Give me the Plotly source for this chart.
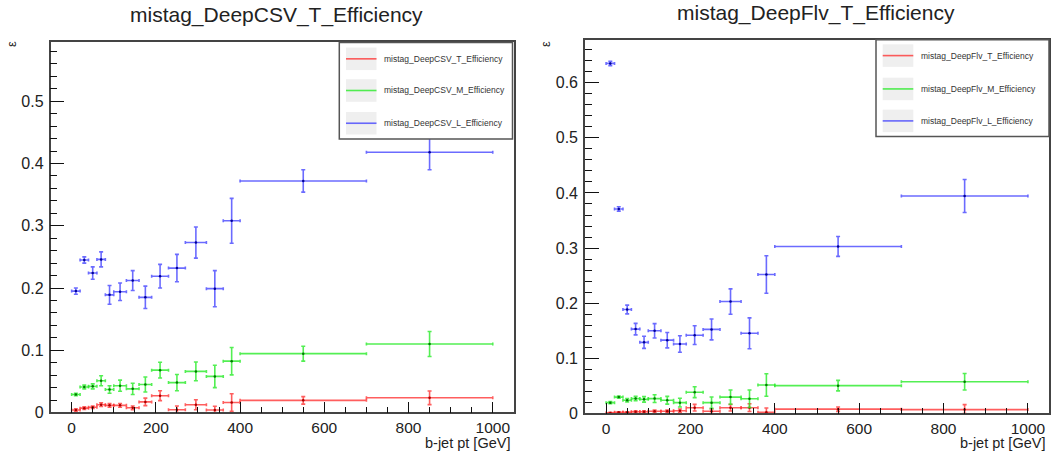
import plotly.graph_objects as go

# ---------------- data ----------------
bin_edges = [0, 20, 40, 60, 80, 100, 130, 160, 190, 230, 270, 320, 360, 400, 700, 1000]

csv_T = [0.004, 0.007, 0.0085, 0.0125, 0.0115, 0.0115, 0.0075, 0.017, 0.027, 0.0045, 0.0125, 0.004, 0.016, 0.0195, 0.0236]
csv_T_err = [0.002, 0.002, 0.002, 0.003, 0.003, 0.003, 0.003, 0.006, 0.008, 0.006, 0.008, 0.006, 0.014, 0.006, 0.011]
csv_M = [0.029, 0.041, 0.042, 0.051, 0.037, 0.043, 0.038, 0.045, 0.068, 0.048, 0.066, 0.058, 0.0825, 0.0945, 0.110]
csv_M_err = [0.002, 0.003, 0.004, 0.008, 0.006, 0.009, 0.009, 0.012, 0.0126, 0.013, 0.015, 0.018, 0.022, 0.012, 0.020]
csv_L = [0.195, 0.245, 0.224, 0.246, 0.189, 0.194, 0.212, 0.185, 0.219, 0.232, 0.273, 0.199, 0.308, 0.372, 0.418]
csv_L_err = [0.005, 0.005, 0.010, 0.012, 0.015, 0.014, 0.016, 0.018, 0.019, 0.022, 0.025, 0.029, 0.036, 0.018, 0.028]

flv_T = [0.001, 0.002, 0.002, 0.003, 0.003, 0.004, 0.004, 0.005, 0.0105, 0.004, 0.0105, 0.0105, 0.002, 0.0078, 0.007]
flv_T_err = [0.001, 0.001, 0.001, 0.002, 0.002, 0.002, 0.002, 0.003, 0.006, 0.004, 0.006, 0.007, 0.008, 0.004, 0.009]
flv_M = [0.0196, 0.0297, 0.024, 0.027, 0.0256, 0.027, 0.024, 0.0196, 0.0386, 0.0196, 0.0297, 0.0267, 0.0516, 0.0505, 0.0576]
flv_M_err = [0.002, 0.002, 0.003, 0.004, 0.005, 0.007, 0.007, 0.008, 0.0098, 0.0104, 0.013, 0.016, 0.0205, 0.0095, 0.015]
flv_L = [0.635, 0.371, 0.1886, 0.153, 0.129, 0.150, 0.133, 0.126, 0.142, 0.1525, 0.203, 0.1454, 0.252, 0.303, 0.3945]
flv_L_err = [0.004, 0.004, 0.008, 0.0104, 0.011, 0.013, 0.014, 0.015, 0.017, 0.019, 0.023, 0.028, 0.034, 0.018, 0.030]

titles = ["mistag_DeepCSV_T_Efficiency", "mistag_DeepFlv_T_Efficiency"]
legend_names = [
    ["mistag_DeepCSV_T_Efficiency", "mistag_DeepCSV_M_Efficiency", "mistag_DeepCSV_L_Efficiency"],
    ["mistag_DeepFlv_T_Efficiency", "mistag_DeepFlv_M_Efficiency", "mistag_DeepFlv_L_Efficiency"],
]
x_title = "b-jet pt [GeV]"
y_title = "ε"
x_ticks = [0, 200, 400, 600, 800, 1000]

# ---------------- styling ----------------
W, H = 1056, 461
FONT = "Liberation Sans, Arial, sans-serif"
line_cols = ["rgba(255,40,40,0.75)", "rgba(40,235,40,0.8)", "rgba(50,50,255,0.72)"]
dot_cols = ["rgb(170,0,0)", "rgb(0,120,0)", "rgb(0,0,150)"]

centers = [(a + b) / 2 for a, b in zip(bin_edges[:-1], bin_edges[1:])]
halfw = [(b - a) / 2 for a, b in zip(bin_edges[:-1], bin_edges[1:])]


def px(x):
    return x / W


def py(y):
    return 1 - y / H


fig = go.Figure()

panels = [
    dict(series=[(csv_T, csv_T_err), (csv_M, csv_M_err), (csv_L, csv_L_err)],
         xa="x", ya="y"),
    dict(series=[(flv_T, flv_T_err), (flv_M, flv_M_err), (flv_L, flv_L_err)],
         xa="x2", ya="y2"),
]

for p in panels:
    for k, (vals, errs) in enumerate(p["series"]):
        lo = [min(e, v) for v, e in zip(vals, errs)]
        fig.add_trace(go.Scatter(
            x=centers, y=vals, mode="markers",
            xaxis=p["xa"], yaxis=p["ya"], showlegend=False,
            marker=dict(size=2.5, color=dot_cols[k]),
            error_x=dict(type="data", array=halfw, color=line_cols[k], thickness=1.6, width=1.5),
            error_y=dict(type="data", array=errs, arrayminus=lo, symmetric=False,
                         color=line_cols[k], thickness=1.6, width=2),
            hoverinfo="x+y",
        ))

frames = [
    dict(x0=50.6, x1=513.8, y0=43.0, y1=420.7, ymax=0.595),
    dict(x0=585.0, x1=1049.0, y0=40.5, y1=421.7, ymax=0.678),
]

axis_common = dict(
    showgrid=False, zeroline=False, showline=True, linecolor="#444", linewidth=1.6,
    mirror=True, ticks="inside", tickcolor="#111", tickwidth=1.3,
    tickfont=dict(family=FONT, size=16, color="#222"),
)

for i, f in enumerate(frames):
    sfx = "" if i == 0 else "2"
    fig.update_layout(**{
        "xaxis" + sfx: dict(
            axis_common, domain=[px(f["x0"]), px(f["x1"])], range=[-50, 1050],
            anchor="y" + sfx, tickvals=x_ticks, ticklen=11, ticklabelstandoff=0,
            tickfont=dict(family=FONT, size=15.5, color="#222"),
            minor=dict(dtick=50, tick0=0, ticks="inside", ticklen=6, tickcolor="#111", tickwidth=1),
        ),
        "yaxis" + sfx: dict(
            axis_common, domain=[py(f["y1"]), py(f["y0"])], range=[0, f["ymax"]],
            anchor="x" + sfx, dtick=0.1, tick0=0, ticklen=14, ticklabelstandoff=2,
            minor=dict(dtick=0.02, tick0=0, ticks="inside", ticklen=7, tickcolor="#111", tickwidth=1),
        ),
    })

annotations = []
shapes = []

title_pos = [(276.7, 15), (816, 13)]
ytitle_pos = [(11, 45), (545, 45)]
for i, f in enumerate(frames):
    tx, ty = title_pos[i]
    annotations.append(dict(text=titles[i], x=px(tx), y=py(ty), xref="paper", yref="paper",
                            showarrow=False, xanchor="center", yanchor="middle",
                            font=dict(family=FONT, size=21, color="#222")))
    annotations.append(dict(text=x_title, x=px(f["x1"] - 3), y=0, xref="paper", yref="paper",
                            showarrow=False, xanchor="right", yanchor="bottom", borderpad=0,
                            font=dict(family=FONT, size=14.5, color="#222")))
    yx, yy = ytitle_pos[i]
    annotations.append(dict(text=y_title, x=px(yx), y=py(yy), xref="paper", yref="paper",
                            showarrow=False, xanchor="center", yanchor="middle", textangle=-90,
                            font=dict(family=FONT, size=13, color="#222")))

# legends (drawn as boxes with line samples)
legend_boxes = [
    dict(x0=339.3, x1=512.5, y0=43.3, y1=141.7, rows=[60, 92.3, 125.7], sx0=346, sx1=376.5, tx=381.5),
    dict(x0=876.0, x1=1049.0, y0=40.5, y1=139.3, rows=[56.7, 90.7, 123.3], sx0=882.7, sx1=913.3, tx=919.3),
]
for i, lb in enumerate(legend_boxes):
    shapes.append(dict(type="rect", xref="paper", yref="paper", layer="above",
                       x0=px(lb["x0"]), x1=px(lb["x1"]), y0=py(lb["y1"]), y1=py(lb["y0"]),
                       fillcolor="white", line=dict(color="#555", width=1.5)))
    for k, ry in enumerate(lb["rows"]):
        shapes.append(dict(type="rect", xref="paper", yref="paper", layer="above",
                           x0=px(lb["sx0"]), x1=px(lb["sx1"]), y0=py(ry + 11.5), y1=py(ry - 11.5),
                           fillcolor="#efefef", line=dict(width=0)))
        shapes.append(dict(type="line", xref="paper", yref="paper", layer="above",
                           x0=px(lb["sx0"]), x1=px(lb["sx1"]), y0=py(ry), y1=py(ry),
                           line=dict(color=line_cols[k], width=1.6)))
        annotations.append(dict(text=legend_names[i][k], x=px(lb["tx"]), y=py(ry), xref="paper",
                                yref="paper", showarrow=False, xanchor="left", yanchor="middle",
                                font=dict(family=FONT, size=8.5, color="#333")))

fig.update_layout(
    width=W, height=H, margin=dict(l=0, r=0, t=0, b=0),
    paper_bgcolor="white", plot_bgcolor="white",
    annotations=annotations, shapes=shapes, showlegend=False,
)

fig.write_html("out.html")
